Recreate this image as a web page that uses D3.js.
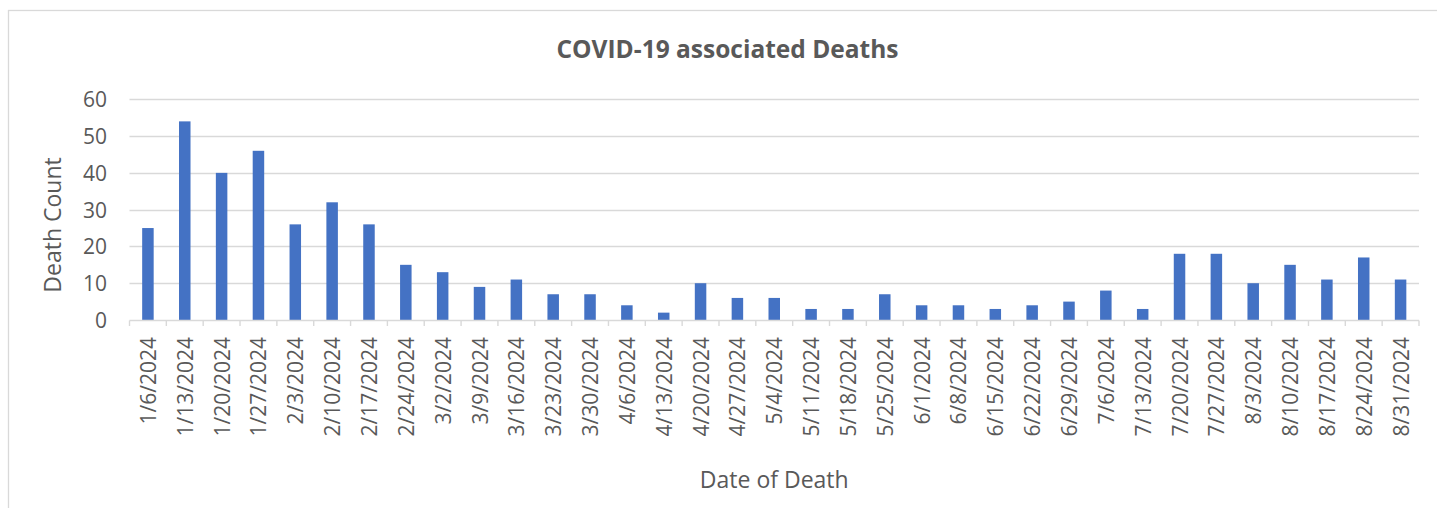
<!DOCTYPE html>
<html>
<head>
<meta charset="utf-8">
<script src="https://cdn.jsdelivr.net/npm/d3@7"></script>
<style>
  html, body { margin: 0; padding: 0; background: #fff; }
  svg { display: block; }
  text { font-family: "Open Sans", "DejaVu Sans", sans-serif; fill: #595959; }
</style>
</head>
<body>
<svg id="chart" width="1437" height="508"></svg>
<script>
const categories = ["1/6/2024","1/13/2024","1/20/2024","1/27/2024","2/3/2024","2/10/2024","2/17/2024","2/24/2024",
  "3/2/2024","3/9/2024","3/16/2024","3/23/2024","3/30/2024","4/6/2024","4/13/2024","4/20/2024","4/27/2024",
  "5/4/2024","5/11/2024","5/18/2024","5/25/2024","6/1/2024","6/8/2024","6/15/2024","6/22/2024","6/29/2024",
  "7/6/2024","7/13/2024","7/20/2024","7/27/2024","8/3/2024","8/10/2024","8/17/2024","8/24/2024","8/31/2024"];
const deaths = [25,54,40,46,26,32,26,15,13,9,11,7,7,4,2,10,6,6,3,3,7,4,4,3,4,5,8,3,18,18,10,15,11,17,11];
const yTicks = [0,10,20,30,40,50,60];
const chartTitle = "COVID-19 associated Deaths";
const xTitle = "Date of Death";
const yTitle = "Death Count";

const svg = d3.select("#chart");
const W = 1437, H = 508;
const plot = { left: 129.5, right: 1419, top: 99.3, bottom: 320 };

// chart border
svg.append("rect")
  .attr("x", 8.5).attr("y", 10.5)
  .attr("width", 1445).attr("height", 520)
  .attr("fill", "#fff").attr("stroke", "#d9d9d9").attr("stroke-width", 1.3);

const x = d3.scaleBand().domain(categories).range([plot.left, plot.right]).paddingInner(0.7).paddingOuter(0.35);
const xOuter = d3.scaleBand().domain(categories).range([plot.left, plot.right]).padding(0);
const y = d3.scaleLinear().domain([0, 60]).range([plot.bottom, plot.top]);

// gridlines
svg.append("g").selectAll("line").data(yTicks.filter(d => d > 0)).join("line")
  .attr("x1", plot.left).attr("x2", plot.right)
  .attr("y1", d => Math.round(y(d)) + 0.5).attr("y2", d => Math.round(y(d)) + 0.5)
  .attr("stroke", "#d9d9d9").attr("stroke-width", 1.4);

// y tick labels
svg.append("g").selectAll("text").data(yTicks).join("text")
  .attr("x", 107).attr("y", d => y(d))
  .attr("text-anchor", "end").attr("dominant-baseline", "central")
  .style("font-size", "21px")
  .text(d => d);

// bars
svg.append("g").selectAll("rect").data(deaths).join("rect")
  .attr("x", (d, i) => xOuter(categories[i]) + (xOuter.bandwidth() - 11.5) / 2)
  .attr("width", 11.5)
  .attr("y", d => y(d))
  .attr("height", d => plot.bottom - y(d))
  .attr("fill", "#4472c4");

// x axis line and tick marks
const axisY = Math.round(plot.bottom) + 0.5;
svg.append("line")
  .attr("x1", plot.left).attr("x2", plot.right)
  .attr("y1", axisY).attr("y2", axisY)
  .attr("stroke", "#d9d9d9").attr("stroke-width", 1.4);
const tickPos = categories.map(c => xOuter(c)).concat([plot.right]);
svg.append("g").selectAll("line").data(tickPos).join("line")
  .attr("x1", d => d).attr("x2", d => d)
  .attr("y1", axisY).attr("y2", axisY + 5.5)
  .attr("stroke", "#d9d9d9").attr("stroke-width", 1.4);

// x tick labels
svg.append("g").selectAll("text").data(categories).join("text")
  .attr("transform", c => `translate(${xOuter(c) + xOuter.bandwidth() / 2},337) rotate(-90)`)
  .attr("text-anchor", "end").attr("dominant-baseline", "central")
  .style("font-size", "21px")
  .text(c => c);

// titles
svg.append("text")
  .attr("x", 727.5).attr("y", 58)
  .attr("text-anchor", "middle")
  .style("font-size", "24.5px").style("font-weight", "bold")
  .text(chartTitle);

svg.append("text")
  .attr("x", (plot.left + plot.right) / 2).attr("y", 488)
  .attr("text-anchor", "middle")
  .style("font-size", "23px")
  .text(xTitle);

svg.append("text")
  .attr("transform", "translate(51.5,225) rotate(-90)")
  .attr("text-anchor", "middle").attr("dominant-baseline", "central")
  .style("font-size", "23px")
  .text(yTitle);
</script>
</body>
</html>
